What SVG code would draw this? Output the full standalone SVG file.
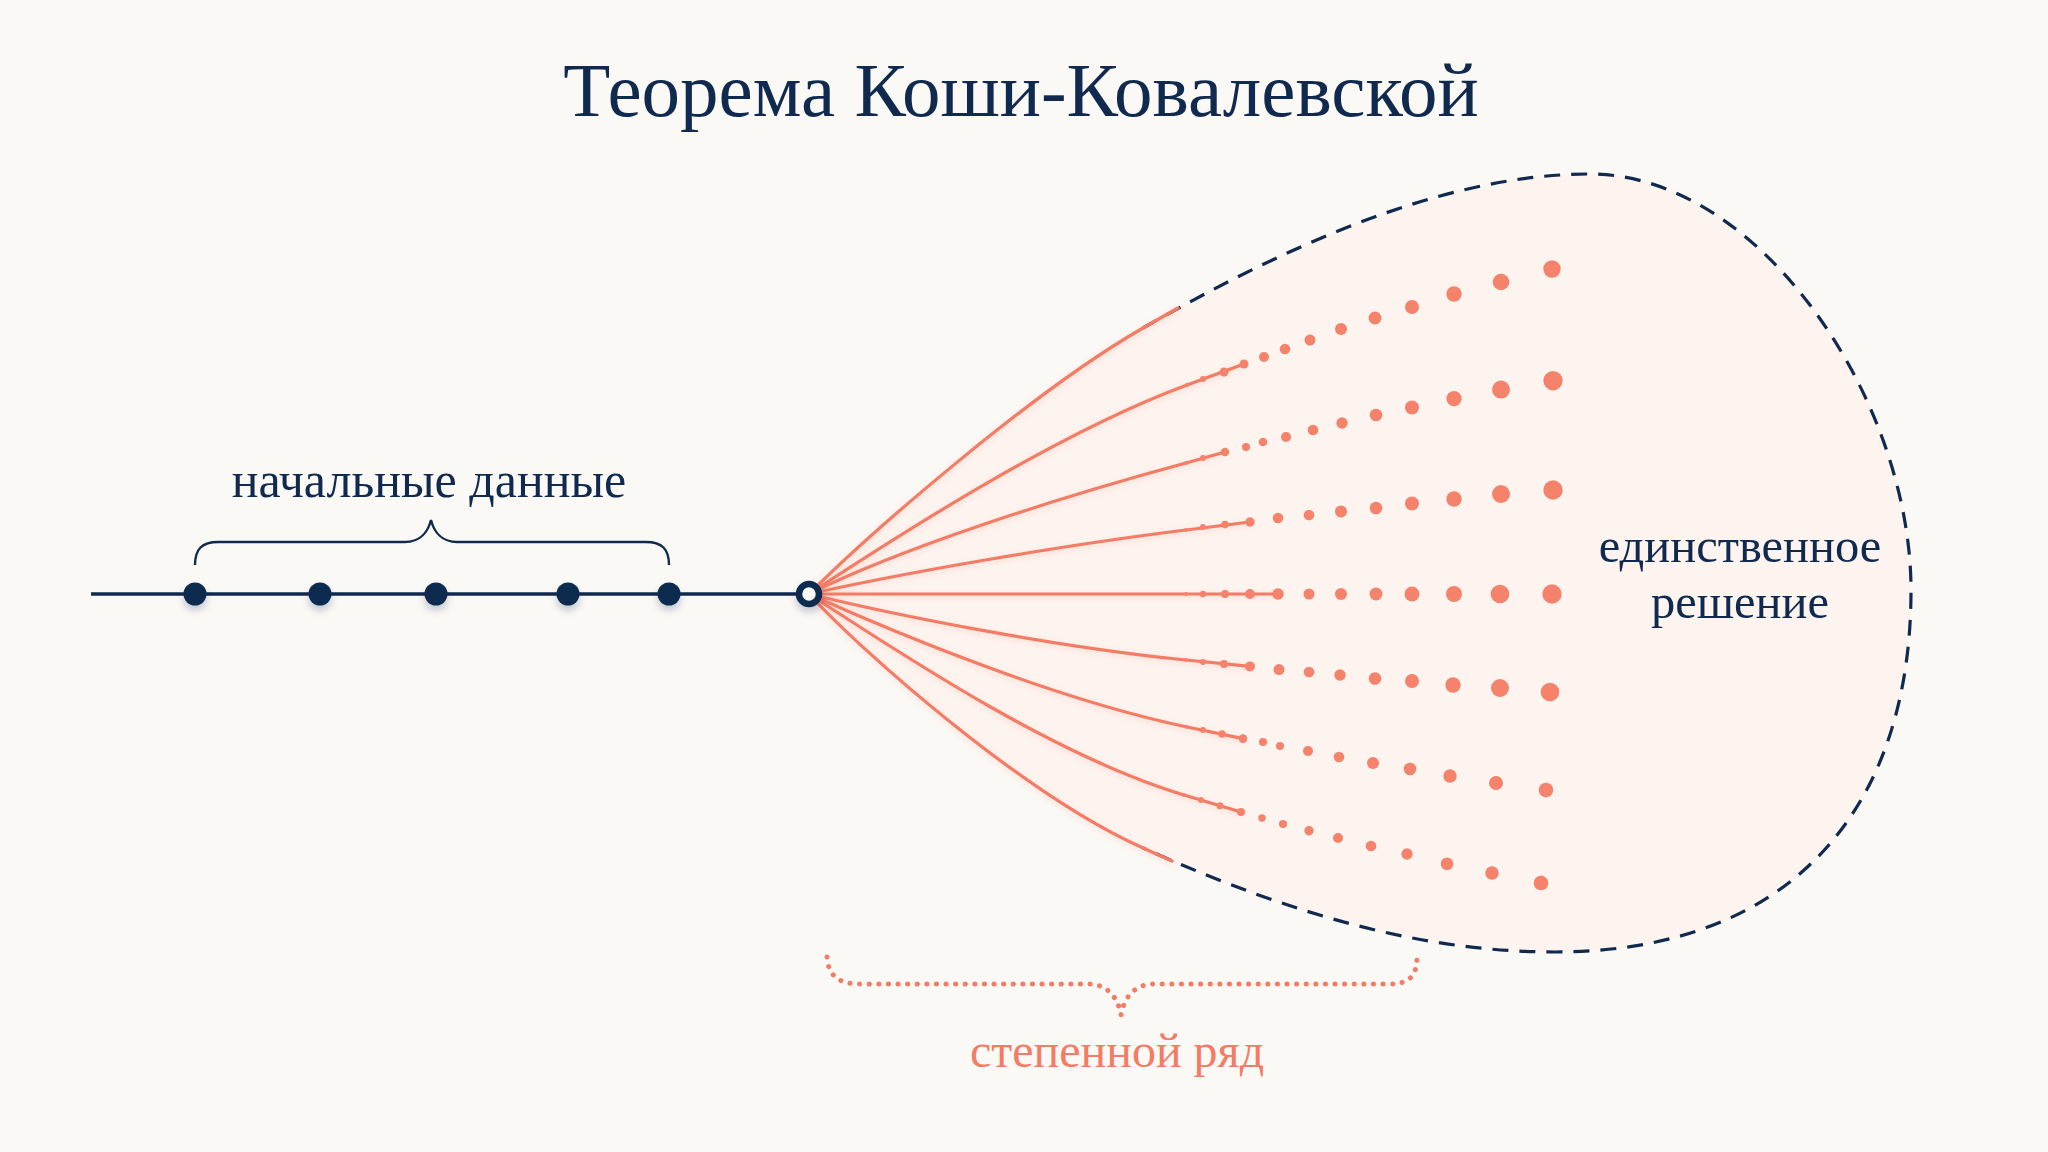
<svg xmlns="http://www.w3.org/2000/svg" width="2048" height="1152" viewBox="0 0 2048 1152">
<defs>
<style>
.navy{fill:#10294f}
.coral-t{fill:#f47c65}
.lbl{font-family:"Liberation Serif","Times New Roman",serif;text-anchor:middle}
.fan{fill:none;stroke:#f47c65;stroke-width:3.2;stroke-linecap:round}
.dot{fill:#f5826b}
.nd{fill:#10294f;filter:url(#sh)}
</style>
<filter id="sh" x="-100%" y="-100%" width="300%" height="300%">
<feDropShadow dx="0" dy="5" stdDeviation="3.5" flood-color="#10294f" flood-opacity="0.22"/>
</filter>
<filter id="glow" x="-10%" y="-10%" width="120%" height="120%">
<feDropShadow dx="0" dy="2" stdDeviation="3" flood-color="#f47c65" flood-opacity="0.25"/>
</filter>
</defs>
<rect width="2048" height="1152" fill="#fbf9f6"/>

<g id="solution-region">
<path d="M809,594 C869,534 1033,391 1143,328 C1280,250 1440,174 1590,174 C1760,174 1911,400 1911,590 C1911,810 1790,952 1555,952 C1400,952 1260,900 1143,848 C1026,796 864,654 809,594 Z" fill="#fdf4f0"/>
<path d="M1143,328 C1280,250 1440,174 1590,174 C1760,174 1911,400 1911,590 C1911,810 1790,952 1555,952 C1400,952 1260,900 1143,848" fill="none" stroke="#10294f" stroke-width="3.2" stroke-dasharray="16 11"/>
</g>

<g id="connectors">
<g filter="url(#glow)">
<path class="fan" d="M809,594 C869,534 1033,391 1143,328 L1178,308"/>
<path class="fan" d="M809,594 C899,535 1057,433 1187,385 L1244,364"/>
<path class="fan" d="M809,594 C899,549 1056,498 1186,463 L1225,452"/>
<path class="fan" d="M809,594 C899,574 1056,546 1186,530 L1250,522"/>
<path class="fan" d="M809,594 L1278,594"/>
<path class="fan" d="M809,594 C899,616 1056,647 1186,660 L1250,666.4"/>
<path class="fan" d="M809,594 C899,634.5 1056,699.4 1186,726.7 L1243,738.6"/>
<path class="fan" d="M809,594 C899,652.5 1054,756 1184,795 L1241,812"/>
<path class="fan" d="M809,594 C864,654 1026,796 1143,848 L1172,861"/>
</g>
<path d="M91,594 L809,594" stroke="#10294f" stroke-width="3.6" fill="none"/>
<path d="M195,565 C195,549 202,542 218,542 L405,542 C420,542 428,532 431,520 C434,532 442,542 457,542 L646,542 C662,542 669,549 669,565" fill="none" stroke="#10294f" stroke-width="2.4"/>
<path d="M827,957 C828,975 838,984 860,984 L1088,984 C1108,984 1118,998 1121,1015 C1124,998 1134,984 1154,984 L1390,984 C1410,984 1417,975 1417,957" fill="none" stroke="#f47c65" stroke-width="5" stroke-dasharray="0.1 9.5" stroke-linecap="round"/>
</g>

<g id="series-dots">
<g id="row1">
<circle class="dot" cx="1187" cy="385" r="2"/><circle class="dot" cx="1203" cy="379" r="3"/><circle class="dot" cx="1224" cy="372" r="4.5"/><circle class="dot" cx="1244" cy="364" r="4.5"/><circle class="dot" cx="1264" cy="357" r="5"/><circle class="dot" cx="1285" cy="349" r="5.3"/><circle class="dot" cx="1310" cy="340" r="5.5"/><circle class="dot" cx="1341" cy="329" r="6"/><circle class="dot" cx="1375" cy="318" r="6.5"/><circle class="dot" cx="1412" cy="307" r="7"/><circle class="dot" cx="1454" cy="294" r="7.7"/><circle class="dot" cx="1501" cy="282" r="8.3"/><circle class="dot" cx="1552" cy="269" r="8.7"/>
</g>
<g id="row2">
<circle class="dot" cx="1186" cy="463" r="2"/><circle class="dot" cx="1203" cy="458" r="3"/><circle class="dot" cx="1225" cy="452" r="4.2"/><circle class="dot" cx="1246" cy="447" r="4"/><circle class="dot" cx="1263" cy="442" r="4.3"/><circle class="dot" cx="1286" cy="437" r="5"/><circle class="dot" cx="1313" cy="430" r="5.3"/><circle class="dot" cx="1342" cy="423" r="5.7"/><circle class="dot" cx="1376" cy="415" r="6.3"/><circle class="dot" cx="1412" cy="407.5" r="7"/><circle class="dot" cx="1454" cy="398.6" r="7.7"/><circle class="dot" cx="1501" cy="389.6" r="9"/><circle class="dot" cx="1553" cy="380.7" r="9.7"/>
</g>
<g id="row3">
<circle class="dot" cx="1186" cy="530" r="2"/><circle class="dot" cx="1203" cy="527" r="3"/><circle class="dot" cx="1225" cy="524.5" r="3.7"/><circle class="dot" cx="1250" cy="522" r="4.7"/><circle class="dot" cx="1278" cy="518" r="5.3"/><circle class="dot" cx="1309" cy="515" r="5.3"/><circle class="dot" cx="1341" cy="511.5" r="6"/><circle class="dot" cx="1376" cy="508" r="6.3"/><circle class="dot" cx="1412" cy="503.5" r="7"/><circle class="dot" cx="1454" cy="499" r="7.7"/><circle class="dot" cx="1501" cy="494" r="9"/><circle class="dot" cx="1553" cy="490" r="9.7"/>
</g>
<g id="row4">
<circle class="dot" cx="1186" cy="594" r="2"/><circle class="dot" cx="1203" cy="594" r="3.3"/><circle class="dot" cx="1225" cy="594" r="4"/><circle class="dot" cx="1250" cy="594" r="5"/><circle class="dot" cx="1278" cy="594" r="5.8"/><circle class="dot" cx="1309" cy="594" r="5.5"/><circle class="dot" cx="1341" cy="594" r="6"/><circle class="dot" cx="1376" cy="594" r="6.5"/><circle class="dot" cx="1412" cy="594" r="7.5"/><circle class="dot" cx="1454" cy="594" r="8"/><circle class="dot" cx="1500" cy="594" r="9.3"/><circle class="dot" cx="1552" cy="594" r="9.7"/>
</g>
<g id="row5">
<circle class="dot" cx="1186" cy="660" r="2"/><circle class="dot" cx="1203" cy="662" r="3"/><circle class="dot" cx="1224" cy="664" r="4"/><circle class="dot" cx="1250" cy="666.4" r="5"/><circle class="dot" cx="1279" cy="669.6" r="5.5"/><circle class="dot" cx="1309" cy="672" r="5.3"/><circle class="dot" cx="1340" cy="675" r="5.7"/><circle class="dot" cx="1375" cy="678.5" r="6.3"/><circle class="dot" cx="1412" cy="681" r="7"/><circle class="dot" cx="1453" cy="685" r="7.7"/><circle class="dot" cx="1500" cy="688" r="9"/><circle class="dot" cx="1550" cy="692" r="9.3"/>
</g>
<g id="row6">
<circle class="dot" cx="1186" cy="726.7" r="2"/><circle class="dot" cx="1203" cy="730" r="3"/><circle class="dot" cx="1222" cy="734" r="3.7"/><circle class="dot" cx="1243" cy="738.6" r="4.3"/><circle class="dot" cx="1263" cy="742" r="4"/><circle class="dot" cx="1280" cy="746" r="4"/><circle class="dot" cx="1308" cy="751" r="5"/><circle class="dot" cx="1339" cy="757" r="5.3"/><circle class="dot" cx="1373" cy="763" r="6"/><circle class="dot" cx="1410" cy="769" r="6.3"/><circle class="dot" cx="1450" cy="776" r="6.7"/><circle class="dot" cx="1496" cy="783" r="7"/><circle class="dot" cx="1546" cy="790" r="7.3"/>
</g>
<g id="row7">
<circle class="dot" cx="1184" cy="795" r="2"/><circle class="dot" cx="1201" cy="800" r="3"/><circle class="dot" cx="1220" cy="805.7" r="3.5"/><circle class="dot" cx="1241" cy="812" r="4"/><circle class="dot" cx="1262" cy="818" r="3.7"/><circle class="dot" cx="1283" cy="824" r="4"/><circle class="dot" cx="1309" cy="830.7" r="4.7"/><circle class="dot" cx="1338" cy="838" r="5"/><circle class="dot" cx="1371" cy="846" r="5.3"/><circle class="dot" cx="1407" cy="854" r="5.7"/><circle class="dot" cx="1447" cy="863.8" r="6.3"/><circle class="dot" cx="1492" cy="873" r="6.7"/><circle class="dot" cx="1541" cy="883" r="7.3"/>
</g>
</g>

<g id="data-point-1"><circle class="nd" cx="195" cy="594" r="11.5"/></g>
<g id="data-point-2"><circle class="nd" cx="320" cy="594" r="11.5"/></g>
<g id="data-point-3"><circle class="nd" cx="436" cy="594" r="11.5"/></g>
<g id="data-point-4"><circle class="nd" cx="568" cy="594" r="11.5"/></g>
<g id="data-point-5"><circle class="nd" cx="669" cy="594" r="11.5"/></g>
<g id="origin-point"><circle cx="809" cy="594" r="10" fill="#fbf9f6" stroke="#10294f" stroke-width="6.5" filter="url(#sh)"/></g>

<g id="title"><text class="lbl navy" x="1021" y="116" font-size="77">Теорема Коши-Ковалевской</text></g>
<g id="label-initial"><text class="lbl navy" x="429" y="497" font-size="50">начальные данные</text></g>
<g id="label-solution"><text class="lbl navy" x="1740" y="562" font-size="48.5">единственное</text><text class="lbl navy" x="1740" y="618" font-size="48.5">решение</text></g>
<g id="label-series"><text class="lbl coral-t" x="1117" y="1067" font-size="48">степенной ряд</text></g>
</svg>
